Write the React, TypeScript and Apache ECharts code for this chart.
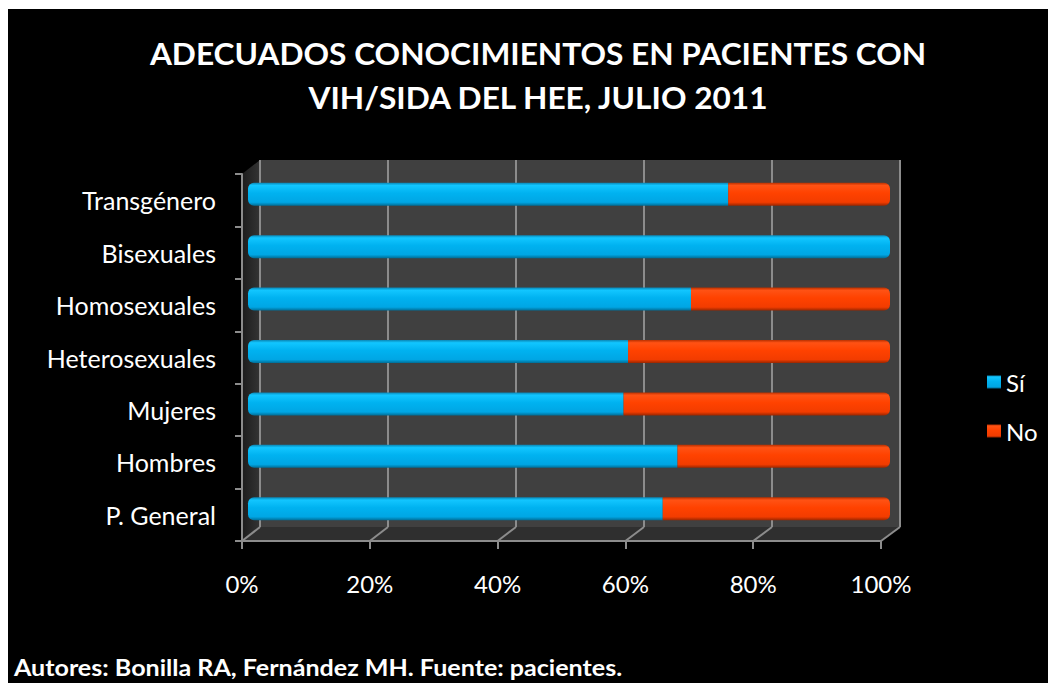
import React, { useEffect, useRef } from "react";
import * as echarts from "echarts";

const categories = ["P. General", "Hombres", "Mujeres", "Heterosexuales", "Homosexuales", "Bisexuales", "Transgénero"];
const siValues = [64.6, 66.9, 58.5, 59.2, 69.0, 100, 74.8];
const noValues = [35.4, 33.1, 41.5, 40.8, 31.0, 0, 25.2];
const xTicks = [0, 20, 40, 60, 80, 100];
const titleLines = ["ADECUADOS CONOCIMIENTOS EN PACIENTES CON", "VIH/SIDA DEL HEE, JULIO 2011"];
const footer = "Autores: Bonilla RA, Fernández MH. Fuente: pacientes.";

const W = 1048;
const H = 675;
const FONT = "Lato, 'Open Sans', sans-serif";

// layout (div coordinates)
const back = { left: 252, right: 156, top: 151, bottom: 157 };
const front = { left: 234, right: 175, top: 165, bottom: 143 };
const bars = { left: 240, right: 166, top: 159, bottom: 149 };

const vgrad = (stops: [number, string][]) =>
  new echarts.graphic.LinearGradient(0, 0, 0, 1, stops.map(([offset, color]) => ({ offset, color })));

const siColor = vgrad([
  [0, "#0a86b5"],
  [0.12, "#12c6ff"],
  [0.45, "#00b2f0"],
  [0.85, "#00a6e4"],
  [1, "#006d96"],
]);
const noColor = vgrad([
  [0, "#b83000"],
  [0.12, "#ff5214"],
  [0.45, "#ff4200"],
  [0.85, "#f23c00"],
  [1, "#9a2600"],
]);

export default function App() {
  const ref = useRef<HTMLDivElement>(null);
  useEffect(() => {
    document.body.style.overflow = "hidden";
    const chart = echarts.init(ref.current!, null, { renderer: "svg" });
    const axisGray = "#8c8c8c";
    chart.setOption({
      animation: false,
      backgroundColor: "#000",
      grid: [
        { ...back, show: true, backgroundColor: "#404040", borderWidth: 0 },
        { ...front, show: false },
        { ...bars, show: false },
      ],
      xAxis: [
        {
          gridIndex: 0, type: "value", min: 0, max: 100, interval: 20,
          axisLabel: { show: false }, axisLine: { show: false }, axisTick: { show: false },
          splitLine: { show: true, lineStyle: { color: axisGray, width: 2 } },
        },
        {
          gridIndex: 1, type: "value", min: 0, max: 100, interval: 20,
          axisLabel: { color: "#fff", fontFamily: FONT, fontSize: 24, margin: 30, formatter: (v: number) => v + "%" },
          axisLine: { show: true, lineStyle: { color: axisGray, width: 2 } },
          axisTick: { show: true, length: 8, lineStyle: { color: axisGray, width: 2 } },
          splitLine: { show: false },
        },
        {
          gridIndex: 2, type: "value", min: 0, max: 100, show: false,
        },
      ],
      yAxis: [
        { gridIndex: 0, type: "category", data: categories, show: false },
        {
          gridIndex: 1, type: "category", data: categories,
          axisLabel: { color: "#fff", fontFamily: FONT, fontSize: 25, margin: 26 },
          axisLine: { show: true, lineStyle: { color: axisGray, width: 2 } },
          axisTick: { show: true, length: 7, lineStyle: { color: axisGray, width: 2 } },
        },
        { gridIndex: 2, type: "category", data: categories, show: false },
      ],
      legend: {
        orient: "vertical",
        left: 974,
        top: 356,
        itemWidth: 14,
        itemHeight: 13,
        itemGap: 25,
        icon: "rect",
        textStyle: { color: "#fff", fontFamily: FONT, fontSize: 24 },
        data: ["Sí", "No"],
      },
      series: [
        {
          name: "Sí", type: "bar", stack: "a", xAxisIndex: 2, yAxisIndex: 2, barWidth: 23,
          data: siValues.map((v, i) => ({
            value: v,
            itemStyle: { borderRadius: noValues[i] > 0 ? [6, 0, 0, 6] : 6 },
          })),
          itemStyle: { color: siColor },
        },
        {
          name: "No", type: "bar", stack: "a", xAxisIndex: 2, yAxisIndex: 2, barWidth: 23,
          data: noValues,
          itemStyle: { color: noColor, borderRadius: [0, 6, 6, 0] },
        },
      ],
    });

    // 3D walls derived from axis scales
    const fx = (v: number) => chart.convertToPixel({ xAxisIndex: 1 }, v) as number;
    const bx = (v: number) => chart.convertToPixel({ xAxisIndex: 0 }, v) as number;
    const fTop = front.top;
    const fBot = H - front.bottom;
    const bTop = back.top;
    const bBot = H - back.bottom;
    const graphics: any[] = [
      {
        type: "polygon", z: -1,
        shape: { points: [[fx(0), fTop], [bx(0), bTop], [bx(0), bBot], [fx(0), fBot]] },
        style: { fill: new echarts.graphic.LinearGradient(0, 0, 1, 0, [
          { offset: 0, color: "#1c1c1c" }, { offset: 1, color: "#343434" },
        ]) },
      },
      {
        type: "polygon", z: -1,
        shape: { points: [[fx(0), fBot], [bx(0), bBot], [bx(100), bBot], [fx(100), fBot]] },
        style: { fill: "#2f2f2f" },
      },
      ...xTicks.map((t) => ({
        type: "line", z: 1,
        shape: { x1: fx(t), y1: fBot, x2: bx(t), y2: bBot },
        style: { stroke: axisGray, lineWidth: 2 },
      })),
      ...titleLines.map((line, i) => ({
        type: "text", z: 10,
        x: 530, y: 45 + i * 44,
        scaleX: 1.055,
        style: {
          text: line, fill: "#fff", font: `bold 30px ${FONT}`,
          textAlign: "center", textVerticalAlign: "middle",
        },
      })),
      {
        type: "text", z: 10, x: 6, y: 659,
        scaleX: 1.14,
        style: { text: footer, fill: "#fff", font: `bold 22px ${FONT}`, textAlign: "left", textVerticalAlign: "middle" },
      },
    ];
    chart.setOption({ graphic: graphics });
    return () => chart.dispose();
  }, []);
  return <div ref={ref} style={{ width: W, height: H, position: "relative", top: 1, background: "#000" }} />;
}
